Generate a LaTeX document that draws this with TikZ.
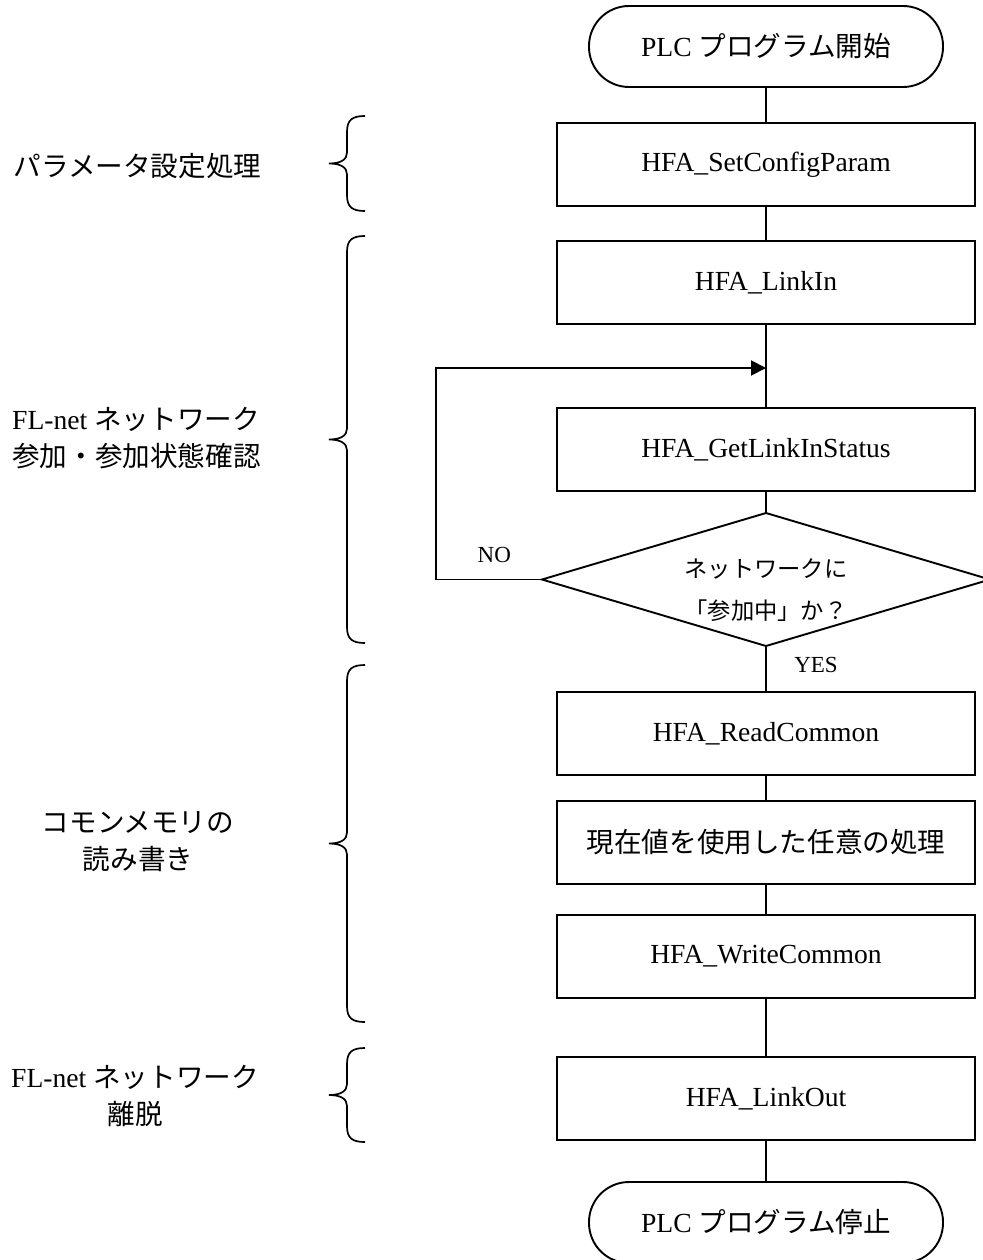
\documentclass[tikz,border=0pt]{standalone}
\usepackage{fontspec}
\setmainfont{Liberation Serif}
\newfontfamily\jp{Noto Sans CJK JP}
\usetikzlibrary{shapes.geometric, arrows.meta, positioning}

% left curly brace, tip pointing to the labels
\newcommand{\sidebrace}[2]{%
  \pgfmathsetmacro{\bmid}{(#1+#2)/2}
  \draw[bracel] (365,#1) .. controls (352,#1) and (347,#1+4) .. (347,#1+16)
    -- (347,\bmid-11) .. controls (347,\bmid-4) and (341,\bmid) .. (329,\bmid)
    .. controls (341,\bmid) and (347,\bmid+4) .. (347,\bmid+11)
    -- (347,#2-16) .. controls (347,#2-4) and (352,#2) .. (365,#2);}

\begin{document}
\begin{tikzpicture}[x=1pt, y=-1pt,
  line/.style={line width=1.9pt},
  procbox/.style={draw, line width=1.9pt, minimum width=418pt, minimum height=83pt,
    inner sep=0pt, outer sep=0pt, font=\fontsize{27.6}{33}\selectfont},
  termbox/.style={draw, line width=1.9pt, rounded corners=40pt, minimum width=354pt,
    minimum height=81pt, inner sep=0pt, outer sep=0pt, font=\fontsize{27.6}{33}\selectfont},
  decbox/.style={draw, diamond, line width=1.9pt, minimum width=448pt, minimum height=133pt,
    inner sep=0pt, outer sep=0pt},
  dectext/.style={align=center, font=\jp\fontsize{23.3}{42}\selectfont},
  ynlabel/.style={font=\fontsize{23}{28}\selectfont},
  sidetext/.style={inner sep=0pt, font=\fontsize{27.6}{37}\selectfont},
  bracel/.style={line width=1.7pt},
  arr/.style={-{Triangle[length=15pt, width=15pt]}, line width=1.9pt}]

  \useasboundingbox (0,0) rectangle (982,1260);

  % main flow
  \node[termbox] (start) at (766,46.5) {PLC {\jp プログラム開始}};
  \node[procbox, below=36pt of start] (cfg) {HFA\_SetConfigParam};
  \node[procbox, below=35pt of cfg] (linkin) {HFA\_LinkIn};
  \node[procbox, below=84pt of linkin] (status) {HFA\_GetLinkInStatus};
  \node[decbox, below=22pt of status] (dec) {};
  \node[dectext] (q) at ([yshift=-11pt]dec.center) {ネットワークに\\「参加中」か？};
  \node[procbox, below=46pt of dec] (rdc) {HFA\_ReadCommon};
  \node[procbox, below=26pt of rdc] (proc) {{\jp 現在値を使用した任意の処理}};
  \node[procbox, below=31pt of proc] (wrc) {HFA\_WriteCommon};
  \node[procbox, below=59pt of wrc] (lout) {HFA\_LinkOut};
  \node[termbox, below=42pt of lout] (stop) {PLC {\jp プログラム停止}};

  \draw[line] (start) -- (cfg);
  \draw[line] (cfg) -- (linkin);
  \draw[line] (linkin) -- (status);
  \draw[line] (status) -- (dec);
  \draw[line] (dec) -- node[ynlabel, pos=0.41, right=24pt] (yes) {YES} (rdc);
  \draw[line] (rdc) -- (proc);
  \draw[line] (proc) -- (wrc);
  \draw[line] (wrc) -- (lout);
  \draw[line] (lout) -- (stop);

  % retry loop
  \coordinate (join) at ([yshift=-44pt]linkin.south);
  \draw[arr] (dec.west) -- node[ynlabel, pos=0.45, above=12pt] (no) {NO} ++(-106,0) |- (join);

  % braces and labels on the left
  \sidebrace{116}{211}
  \sidebrace{236}{643}
  \sidebrace{665}{1022}
  \sidebrace{1048}{1142}

  \node[sidetext] (lblcfg) at (137.5,166) {{\jp パラメータ設定処理}};
  \node[sidetext, anchor=west, align=left] (lbllink) at (12,438)
    {FL-net {\jp ネットワーク}\\{\jp 参加・参加状態確認}};
  \node[sidetext, align=center] (lblmem) at (138,842)
    {{\jp コモンメモリの}\\{\jp 読み書き}};
  \node[sidetext, align=center] (lblout) at (135,1096)
    {FL-net {\jp ネットワーク}\\{\jp 離脱}};
\end{tikzpicture}
\end{document}
